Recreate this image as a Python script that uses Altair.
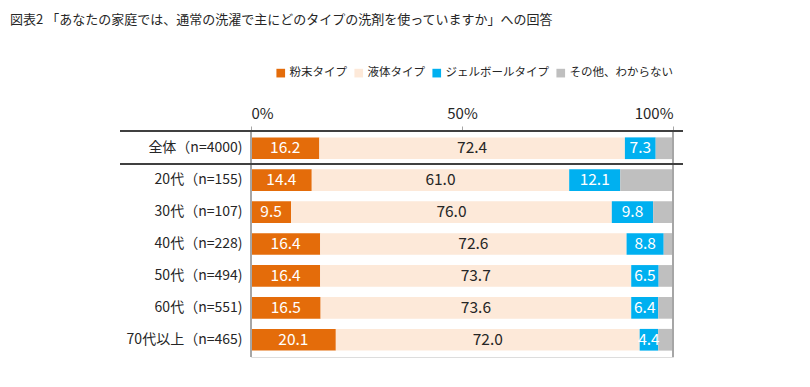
import altair as alt
import pandas as pd

categories = ["全体（n=4000)", "20代（n=155)", "30代（n=107)", "40代（n=228)",
              "50代（n=494)", "60代（n=551)", "70代以上（n=465)"]
powder = [16.2, 14.4, 9.5, 16.4, 16.4, 16.5, 20.1]
liquid = [72.4, 61.0, 76.0, 72.6, 73.7, 73.6, 72.0]
gel = [7.3, 12.1, 9.8, 8.8, 6.5, 6.4, 4.4]
other = [4.1, 12.5, 4.7, 2.2, 3.4, 3.5, 3.5]
series = ["粉末タイプ", "液体タイプ", "ジェルボールタイプ", "その他、わからない"]
colors = ["#E46C0A", "#FDE9D9", "#00B0F0", "#BFBFBF"]
text_colors = ["#FFFFFF", "#262626", "#FFFFFF", "#FFFFFF"]
title_text = "図表2 「あなたの家庭では、通常の洗濯で主にどのタイプの洗剤を使っていますか」への回答"

FONT = "Noto Sans CJK JP"

rows = []
for i, cat in enumerate(categories):
    start = 0.0
    for j, vals in enumerate([powder, liquid, gel, other]):
        v = vals[i]
        rows.append({"cat": cat, "seg": series[j], "order": j, "start": start,
                     "end": start + v, "mid": start + v / 2, "value": v,
                     "label": f"{v:.1f}" if j < 3 else "", "tcolor": text_colors[j]})
        start += v
df = pd.DataFrame(rows)

y_enc = alt.Y("cat:N", sort=categories,
              scale=alt.Scale(paddingInner=0.32, paddingOuter=0.2),
              axis=alt.Axis(title=None, domain=False, ticks=False, labelPadding=9,
                            labelFontSize=14, labelColor="#262626", labelFont=FONT))

x_scale = alt.Scale(domain=[0, 100], nice=False)

bars = alt.Chart(df).mark_bar().encode(
    x=alt.X("start:Q", scale=x_scale,
            axis=alt.Axis(orient="top", values=[0, 50, 100], title=None,
                          labelExpr="datum.value + '%'", domain=False, grid=False,
                          tickSize=5, tickColor="#A6A6A6", labelPadding=5,
                          labelFontSize=15, labelColor="#262626", labelFont=FONT)),
    x2="end:Q",
    y=y_enc,
    color=alt.Color("seg:N", sort=series,
                    scale=alt.Scale(domain=series, range=colors),
                    legend=alt.Legend(title=None, orient="none", direction="horizontal",
                                      legendX=24, legendY=-64, symbolType="square",
                                      symbolSize=75, symbolStrokeWidth=0,
                                      labelFontSize=11.5, labelFont=FONT, labelOffset=3,
                                      labelColor="#262626", columnPadding=6,
                                      symbolOffset=0)),
    order="order:Q",
)

labels = alt.Chart(df).mark_text(fontSize=15.5, font=FONT, baseline="middle").encode(
    x=alt.X("mid:Q", scale=x_scale),
    y=alt.Y("cat:N", sort=categories),
    text="label:N",
    color=alt.Color("tcolor:N", scale=None),
)

vlines = alt.Chart(pd.DataFrame({"v": [0, 100]})).mark_rule(
    color="#A6A6A6", strokeWidth=2).encode(x=alt.X("v:Q", scale=x_scale))

hline_top = alt.Chart(pd.DataFrame({"a": [0]})).mark_rule(
    color="#404040", strokeWidth=2).encode(
    x=alt.value(-131), x2=alt.value(432), y=alt.value(0))

hline_mid = alt.Chart(pd.DataFrame({"a": [0]})).mark_rule(
    color="#404040", strokeWidth=2).encode(
    x=alt.value(-131), x2=alt.value(432), y=alt.value(33))

chart = alt.layer(bars, labels, vlines, hline_top, hline_mid).properties(
    width=422, height=226,
    autosize=alt.AutoSizeParams(type="none"),
    padding={"left": 243, "top": 123, "right": 129, "bottom": 22},
    title=alt.TitleParams(title_text, anchor="start", frame="group", dx=-241,
                          fontSize=13, fontWeight="normal", font=FONT,
                          color="#262626", offset=40),
).configure_view(stroke=None).configure(background="white")

chart.save("out.html", embed_options={"renderer": "svg", "actions": False})
